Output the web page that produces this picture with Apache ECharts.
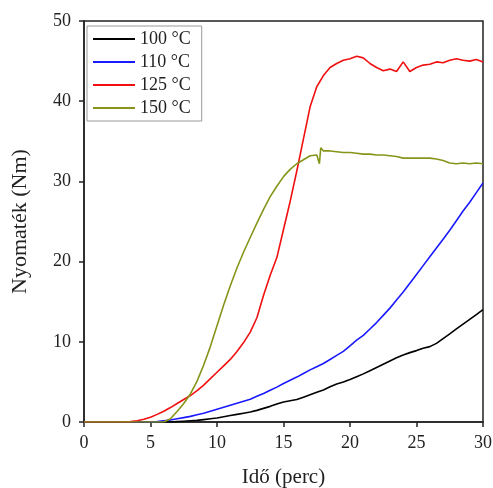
<!DOCTYPE html>
<html>
<head>
<meta charset="utf-8">
<script src="https://cdn.jsdelivr.net/npm/echarts@6/dist/echarts.min.js"></script>
<style>
  html, body { margin: 0; padding: 0; background: #fff; }
  #chart { width: 493px; height: 488px; }
</style>
</head>
<body>
<div id="chart"></div>
<script>
// idő (perc), 0.5 perces lépés
const time = [0, 0.5, 1, 1.5, 2, 2.5, 3, 3.5, 4, 4.5, 5, 5.5, 6, 6.5, 7, 7.5, 8, 8.5, 9, 9.5,
  10, 10.5, 11, 11.5, 12, 12.5, 13, 13.5, 14, 14.5, 15, 15.5, 16, 16.5, 17, 17.5, 18, 18.5, 19, 19.5,
  20, 20.5, 21, 21.5, 22, 22.5, 23, 23.5, 24, 24.5, 25, 25.5, 26, 26.5, 27, 27.5, 28, 28.5, 29, 29.5, 30];

// 100 °C
const t100 = [0, 0, 0, 0, 0, 0, 0, 0, 0, 0, 0, 0, 0, 0, 0.05, 0.1, 0.15, 0.2, 0.3, 0.4,
  0.5, 0.65, 0.8, 0.95, 1.1, 1.25, 1.45, 1.7, 1.95, 2.25, 2.5, 2.65, 2.8, 3.1, 3.4, 3.7, 4.0, 4.4, 4.75, 5.0,
  5.3, 5.65, 6.0, 6.4, 6.8, 7.2, 7.6, 8.0, 8.35, 8.65, 8.9, 9.2, 9.4, 9.8, 10.4, 11.0, 11.6, 12.2, 12.8, 13.4, 14.0];

// 110 °C
const t110 = [0, 0, 0, 0, 0, 0, 0, 0, 0, 0, 0, 0.05, 0.15, 0.25, 0.4, 0.55, 0.7, 0.9, 1.1, 1.35,
  1.6, 1.85, 2.1, 2.35, 2.6, 2.85, 3.2, 3.55, 3.95, 4.35, 4.8, 5.2, 5.6, 6.05, 6.5, 6.9, 7.3, 7.8, 8.3, 8.8,
  9.5, 10.2, 10.8, 11.6, 12.4, 13.3, 14.2, 15.2, 16.2, 17.3, 18.4, 19.5, 20.6, 21.7, 22.8, 23.9, 25.1, 26.3, 27.4, 28.6, 29.8];

// 125 °C
const t125 = [0, 0, 0, 0, 0, 0, 0, 0.05, 0.15, 0.35, 0.6, 0.95, 1.35, 1.8, 2.3, 2.8, 3.3, 3.9, 4.6, 5.4,
  6.2, 7.0, 7.8, 8.8, 9.9, 11.2, 13.0, 15.8, 18.3, 20.5, 24.0, 27.5, 31.3, 35.3, 39.3, 41.8, 43.2, 44.2, 44.7, 45.1,
  45.3, 45.6, 45.4, 44.7, 44.2, 43.8, 44.0, 43.7, 44.9, 43.7, 44.2, 44.5, 44.6, 44.9, 44.8, 45.1, 45.3, 45.1, 45.0, 45.2, 44.9];

// 150 °C (saját időtengely a 17.7 perces tüske miatt)
const time150 = [0, 0.5, 1, 1.5, 2, 2.5, 3, 3.5, 4, 4.5, 5, 5.5, 6, 6.5, 7, 7.5, 8, 8.5, 9, 9.5,
  10, 10.5, 11, 11.5, 12, 12.5, 13, 13.5, 14, 14.5, 15, 15.5, 16, 16.5, 17, 17.5, 17.7, 17.8, 18, 18.5, 19, 19.5,
  20, 20.5, 21, 21.5, 22, 22.5, 23, 23.5, 24, 24.5, 25, 25.5, 26, 26.5, 27, 27.5, 28, 28.5, 29, 29.5, 30];
const t150 = [0, 0, 0, 0, 0, 0, 0, 0, 0, 0, 0, 0, 0, 0.4, 1.3, 2.3, 3.5, 5.1, 7.1, 9.4,
  12.0, 14.6, 17.0, 19.2, 21.2, 23.0, 24.8, 26.5, 28.1, 29.4, 30.6, 31.5, 32.2, 32.7, 33.2, 33.3, 32.2, 34.2, 33.8, 33.8, 33.7, 33.6,
  33.6, 33.5, 33.4, 33.4, 33.3, 33.3, 33.2, 33.1, 32.9, 32.9, 32.9, 32.9, 32.9, 32.8, 32.6, 32.3, 32.2, 32.3, 32.2, 32.3, 32.2];

const xTicks = [0, 5, 10, 15, 20, 25, 30];
const yTicks = [0, 10, 20, 30, 40, 50];

const pair = (xs, ys) => xs.map((x, i) => [x, ys[i]]);

const serif = '"Liberation Serif", "DejaVu Serif", serif';

const myChart = echarts.init(document.getElementById('chart'));

const mkSeries = (name, data, color) => ({
  name: name,
  type: 'line',
  data: data,
  symbol: 'none',
  smooth: false,
  lineStyle: { color: color, width: 1.6 },
  itemStyle: { color: color },
  z: 3
});

const option = {
  animation: false,
  backgroundColor: '#fff',
  grid: {
    left: 84, right: 10, top: 21, bottom: 66,
    outerBoundsMode: 'none',
    show: true, borderColor: '#222', borderWidth: 1.5, backgroundColor: 'transparent'
  },
  legend: {
    orient: 'vertical',
    left: 87, top: 26,
    padding: [4, 11, 4, 6],
    icon: 'rect',
    itemWidth: 42, itemHeight: 2, itemGap: 5,
    borderColor: '#999', borderWidth: 1,
    textStyle: { fontFamily: serif, fontSize: 18, color: '#222' },
    data: ['100 °C', '110 °C', '125 °C', '150 °C']
  },
  xAxis: {
    type: 'value',
    min: xTicks[0], max: xTicks[xTicks.length - 1], interval: 5,
    name: 'Idő (perc)',
    nameLocation: 'middle',
    nameGap: 45,
    nameTextStyle: { fontFamily: serif, fontSize: 21, color: '#222' },
    axisLine: { show: true, lineStyle: { color: '#222', width: 1.5 } },
    axisTick: { show: true, inside: false, length: 5, lineStyle: { color: '#222', width: 1.5 } },
    axisLabel: { fontFamily: serif, fontSize: 18, color: '#222', margin: 12 },
    splitLine: { show: false }
  },
  yAxis: {
    type: 'value',
    min: yTicks[0], max: yTicks[yTicks.length - 1], interval: 10,
    name: 'Nyomaték (Nm)',
    nameLocation: 'middle',
    nameGap: 53,
    nameTextStyle: { fontFamily: serif, fontSize: 22, color: '#222' },
    axisLine: { show: true, lineStyle: { color: '#222', width: 1.5 } },
    axisTick: { show: true, inside: false, length: 5, lineStyle: { color: '#222', width: 1.5 } },
    axisLabel: { fontFamily: serif, fontSize: 18, color: '#222', margin: 13 },
    splitLine: { show: false }
  },
  series: [
    mkSeries('100 °C', pair(time, t100), '#000000'),
    mkSeries('110 °C', pair(time, t110), '#1a1aff'),
    mkSeries('125 °C', pair(time, t125), '#f01010'),
    mkSeries('150 °C', pair(time150, t150), '#86951a')
  ]
};

myChart.setOption(option);
</script>
</body>
</html>
